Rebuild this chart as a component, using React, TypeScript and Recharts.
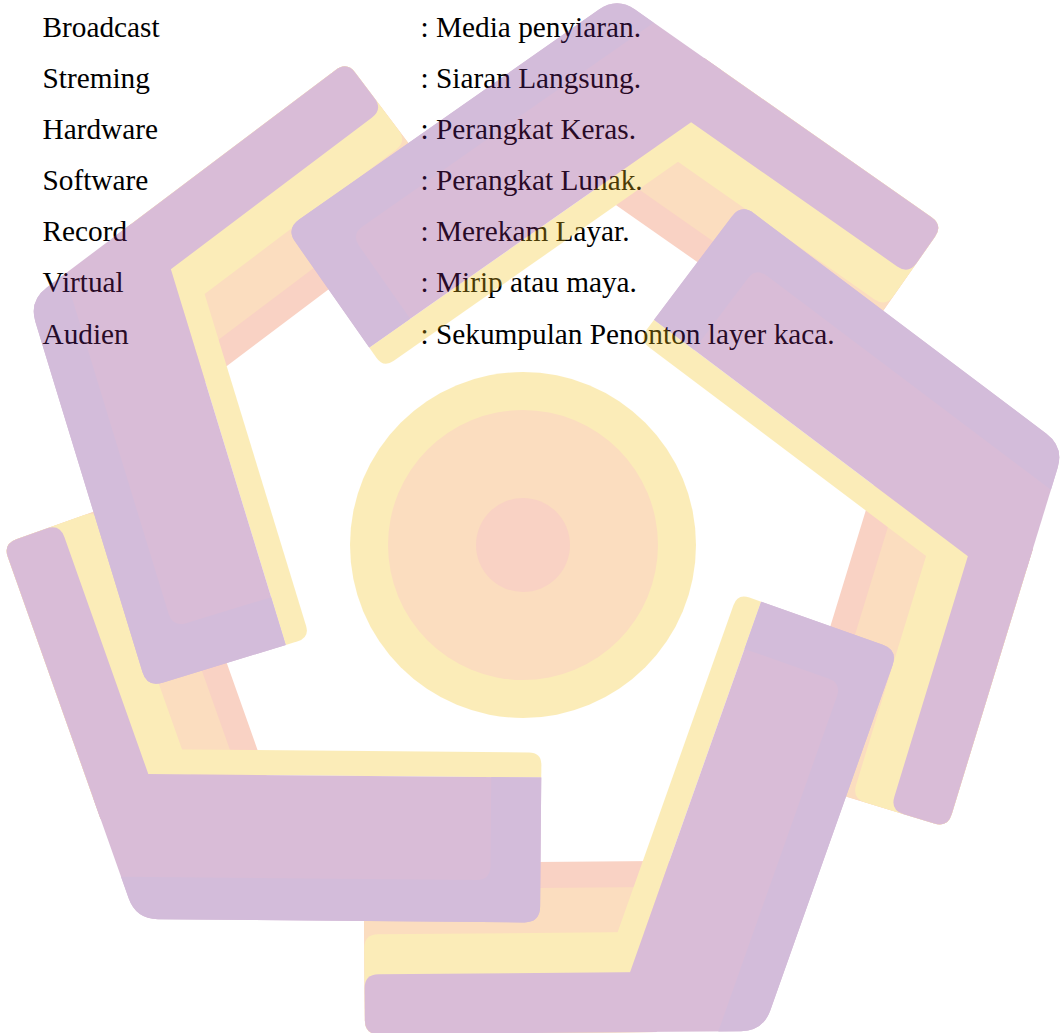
import React from 'react';
import { ScatterChart, Scatter, XAxis, YAxis } from 'recharts';

// ---- Glossary text ----
const terms = ['Broadcast', 'Streming', 'Hardware', 'Software', 'Record', 'Virtual', 'Audien'];
const definitions = [
  ': Media penyiaran.',
  ': Siaran Langsung.',
  ': Perangkat Keras.',
  ': Perangkat Lunak.',
  ': Merekam Layar.',
  ': Mirip atau maya.',
  ': Sekumpulan Penonton layer kaca.',
];

// ---- Watermark logo data: outer corner of each of the five bent pieces ----
const pieceX = [136, 29, 617, 1064, 763];
const pieceY = [919, 301, -3, 447, 1031];
const pieceDir = [0.5, 73, 145, 217, 289.5]; // direction of the long (thick) arm, degrees
const ringCenter = [{ x: 523, y: 545 }];
const ringRadii = [173, 135, 47];

// watermark group opacity and opaque colours (blend to the pale tints over white)
const WM_OPACITY = 0.3;
const PINK = '#84267D';
const BLUISH = '#702687';
const YELLOW = '#F5C319';
const PEACH = '#F2912D';
const SALMON = '#EE6C3E';
const ringColors = [YELLOW, PEACH, SALMON];

// piece geometry in local frame (corner at origin, thick arm along +x)
const PHI = (-110 * Math.PI) / 180;
const U = [Math.cos(PHI), Math.sin(PHI)];
const N = [Math.cos(PHI + Math.PI / 2), Math.sin(PHI + Math.PI / 2)];
const THIN_LEN = 398;
const THICK_LEN = 404;
const H0 = 100;

type P = [number, number];

const xh = (x: number, h: number): P => [x, -h];
const sh = (s: number, h: number): P => xh((s + N[1] * h) / N[0], h);
const ts = (t: number, s: number): P => [t * U[0] + s * N[0], t * U[1] + s * N[1]];

function rot(p: P, deg: number, cx: number, cy: number): P {
  const a = (deg * Math.PI) / 180;
  const c = Math.cos(a);
  const s = Math.sin(a);
  return [cx + p[0] * c - p[1] * s, cy + p[0] * s + p[1] * c];
}

function roundedPath(pts: P[], radii: number[]): string {
  const n = pts.length;
  let d = '';
  for (let i = 0; i < n; i++) {
    const cur = pts[i];
    const prev = pts[(i - 1 + n) % n];
    const next = pts[(i + 1) % n];
    const v1: P = [prev[0] - cur[0], prev[1] - cur[1]];
    const v2: P = [next[0] - cur[0], next[1] - cur[1]];
    const l1 = Math.hypot(v1[0], v1[1]);
    const l2 = Math.hypot(v2[0], v2[1]);
    const r = Math.min(radii[i] || 0, l1 / 2, l2 / 2);
    const p1: P = [cur[0] + (v1[0] / l1) * r, cur[1] + (v1[1] / l1) * r];
    const p2: P = [cur[0] + (v2[0] / l2) * r, cur[1] + (v2[1] / l2) * r];
    d += (i === 0 ? 'M' : 'L') + p1[0].toFixed(2) + ',' + p1[1].toFixed(2);
    if (r > 0) {
      d += 'Q' + cur[0].toFixed(2) + ',' + cur[1].toFixed(2) + ' ' + p2[0].toFixed(2) + ',' + p2[1].toFixed(2);
    }
  }
  return d + 'Z';
}

const thinBands: { w: number; color: string }[] = [
  { w: 171, color: SALMON },
  { w: 145, color: PEACH },
  { w: 100, color: YELLOW },
  { w: 60, color: PINK },
];

function ThinArm(props: any) {
  const { cx, cy, payload } = props;
  const ang = payload.dir;
  return (
    <g>
      {thinBands.map((b, i) => {
        const pts: P[] = [sh(0, H0), sh(b.w, H0), ts(THIN_LEN, b.w), ts(THIN_LEN, 0)].map((p) =>
          rot(p, ang, cx, cy)
        );
        return <path key={i} d={roundedPath(pts, [0, 0, 14, 14])} fill={b.color} />;
      })}
    </g>
  );
}

function ThickArm(props: any) {
  const { cx, cy, payload } = props;
  const ang = payload.dir;
  const r = (pts: P[]) => pts.map((p) => rot(p, ang, cx, cy));
  const yellow = r([sh(60, 145), xh(THICK_LEN, 145), xh(THICK_LEN, 170), sh(100, 170)]);
  const pink = r([sh(0, 120), xh(0, 0), xh(THICK_LEN, 0), xh(THICK_LEN, 145), sh(60, 145)]);
  const blue = r([
    sh(0, 42),
    xh(0, 0),
    xh(THICK_LEN, 0),
    xh(THICK_LEN, 145),
    xh(THICK_LEN - 50, 145),
    xh(THICK_LEN - 50, 42),
  ]);
  return (
    <g>
      <path d={roundedPath(yellow, [0, 0, 14, 0])} fill={YELLOW} />
      <path d={roundedPath(pink, [0, 22, 16, 0, 0])} fill={PINK} />
      <path d={roundedPath(blue, [0, 22, 16, 0, 0, 14])} fill={BLUISH} />
    </g>
  );
}

function Rings(props: any) {
  const { cx, cy } = props;
  return (
    <g>
      {ringRadii.map((rr, i) => (
        <circle key={i} cx={cx} cy={cy} r={rr} fill={ringColors[i]} />
      ))}
    </g>
  );
}

const pieceData = pieceX.map((x, i) => ({ x, y: pieceY[i], dir: pieceDir[i] }));

const FONT = "'Liberation Serif', 'Times New Roman', Times, serif";
const BASE_Y = 36.7;
const STEP = 51.15;

export default function App() {
  return (
    <div style={{ position: 'absolute', left: 0, top: 0, width: 1060, height: 1033, background: '#fff', overflow: 'hidden' }}>
      <svg width={1060} height={1033} style={{ position: 'absolute', left: 0, top: 0 }}>
        {terms.map((t, i) => (
          <text key={'t' + i} x={42.5} y={BASE_Y + i * STEP} fontFamily={FONT} fontSize={29.3} fill="#000">
            {t}
          </text>
        ))}
        {definitions.map((t, i) => (
          <text key={'d' + i} x={420.5} y={BASE_Y + i * STEP} fontFamily={FONT} fontSize={29.3} fill="#000">
            {t}
          </text>
        ))}
      </svg>
      <div style={{ position: 'absolute', left: 0, top: 0, opacity: WM_OPACITY }}>
        <ScatterChart width={1060} height={1033} margin={{ top: 0, right: 0, bottom: 0, left: 0 }}>
          <XAxis type="number" dataKey="x" domain={[0, 1060]} allowDataOverflow hide />
          <YAxis type="number" dataKey="y" domain={[0, 1033]} allowDataOverflow reversed hide />
          <Scatter data={pieceData} shape={ThinArm} isAnimationActive={false} />
          <Scatter data={pieceData} shape={ThickArm} isAnimationActive={false} />
          <Scatter data={ringCenter} shape={Rings} isAnimationActive={false} />
        </ScatterChart>
      </div>
    </div>
  );
}
